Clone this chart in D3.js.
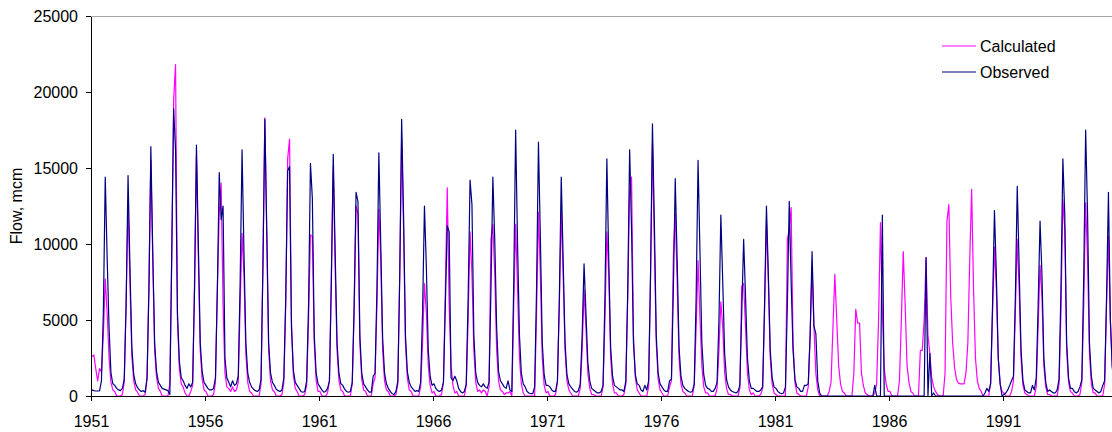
<!DOCTYPE html>
<html>
<head>
<meta charset="utf-8">
<script src="https://cdn.jsdelivr.net/npm/d3@7"></script>
<style>
  body { margin: 0; background: #fff; }
  svg { display: block; font-family: "Liberation Sans", Arial, sans-serif; }
  .axis path, .axis line { stroke: #000; shape-rendering: crispEdges; }
  .axis text { font-size: 16px; fill: #000; }
</style>
</head>
<body>
<div id="chart"></div>
<script>
// monthly flow, Jan..Dec per row, 1951 - 1995
var startYear = 1951;
var tickYears = ["1951", "1956", "1961", "1966", "1971", "1976", "1981", "1986", "1991"];
var yTicks = [0, 5000, 10000, 15000, 20000, 25000];
var seriesNames = ["Calculated", "Observed"];

var calculated = [
  2600, 2700, 1800, 1000, 1800, 1600, 4000, 7700, 5500, 2500, 900, 400,      // 1951
  300, 0, 0, 0, 100, 900, 6500, 12800, 7500, 2600, 1000, 400,                 // 1952
  250, 0, 0, 0, 100, 1100, 7500, 15500, 9000, 3000, 1200, 500,                // 1953
  300, 0, 0, 0, 0, 800, 9000, 19500, 21800, 5000, 1800, 800,                  // 1954
  600, 200, 0, 0, 300, 700, 7500, 15800, 9000, 3000, 1100, 400,               // 1955
  300, 0, 0, 0, 100, 900, 7000, 12000, 14000, 6000, 1500, 600,                // 1956
  500, 300, 600, 300, 400, 900, 6000, 10700, 8000, 2800, 900, 300,            // 1957
  200, 0, 0, 0, 0, 800, 9000, 18300, 10500, 3000, 1000, 400,                  // 1958
  300, 0, 0, 0, 100, 900, 6000, 15600, 16900, 5000, 1400, 500,                // 1959
  300, 0, 0, 0, 100, 700, 5000, 10600, 10500, 3500, 1000, 300,                // 1960
  300, 0, 0, 0, 200, 1000, 8000, 15100, 8500, 3000, 1000, 400,                // 1961
  300, 0, 0, 0, 0, 800, 5500, 12500, 12000, 3500, 1100, 400,                  // 1962
  300, 0, 0, 0, 800, 1200, 6000, 12300, 9000, 3000, 1000, 400,                // 1963
  300, 0, 0, 0, 100, 800, 8000, 17000, 11000, 3500, 1200, 400,                // 1964
  300, 0, 0, 0, 0, 600, 3500, 7400, 5500, 2000, 700, 200,                     // 1965
  300, 0, 0, 0, 100, 900, 7000, 13700, 6000, 2000, 700, 200,                  // 1966
  300, 0, 0, 0, 0, 700, 5000, 10800, 8000, 3000, 900, 300,                    // 1967
  400, 200, 400, 300, 0, 600, 10300, 11300, 8000, 3000, 1000, 400,            // 1968
  300, 100, 200, 200, 300, 0, 6000, 11300, 7000, 2500, 800, 200,              // 1969
  0, 0, 0, 0, 0, 0, 5500, 12100, 8000, 2500, 700, 200,                        // 1970
  300, 0, 0, 0, 100, 900, 6000, 12200, 8000, 3000, 1000, 400,                 // 1971
  200, 0, 0, 0, 0, 500, 3000, 7000, 4500, 1500, 500, 100,                     // 1972
  100, 0, 0, 0, 0, 600, 5000, 10800, 8000, 2500, 800, 200,                    // 1973
  200, 0, 0, 0, 100, 800, 6500, 13500, 14400, 4000, 1200, 400,                // 1974
  200, 0, 0, 0, 0, 600, 8000, 16600, 10000, 3500, 1100, 400,                  // 1975
  200, 0, 0, 0, 600, 1000, 9200, 12000, 7500, 2500, 800, 300,                 // 1976
  200, 0, 0, 0, 0, 700, 4500, 8900, 5200, 2000, 600, 200,                     // 1977
  200, 0, 0, 0, 0, 500, 3000, 6200, 4500, 1500, 500, 100,                     // 1978
  100, 0, 0, 0, 0, 500, 7200, 7400, 4500, 1500, 400, 100,                     // 1979
  200, 0, 0, 0, 100, 500, 5500, 11500, 7500, 2500, 800, 200,                  // 1980
  100, 0, 0, 0, 0, 0, 10300, 11000, 12400, 3500, 900, 200,                    // 1981
  100, 0, 0, 0, 0, 600, 4000, 8500, 4500, 1500, 400, 0,                       // 1982
  0, 0, 0, 0, 300, 900, 4500, 8000, 5000, 2000, 800, 300,                     // 1983
  200, 0, 0, 0, 0, 1500, 5700, 4800, 4800, 1500, 700, 200,                    // 1984
  100, 0, 0, 0, 200, 800, 5000, 11400, 5500, 1800, 800, 300,                  // 1985
  300, 0, 0, 0, 0, 1000, 5000, 9500, 6000, 2000, 900, 300,                    // 1986
  200, 0, 0, 0, 3000, 3000, 5000, 9100, 4000, 2800, 1200, 600,                // 1987
  300, 100, 0, 0, 0, 1500, 11500, 12600, 6500, 3500, 1900, 1100,              // 1988
  850, 800, 800, 800, 1500, 3500, 9000, 13600, 7000, 2500, 1000, 500,         // 1989
  300, 0, 0, 0, 0, 900, 5500, 9800, 7000, 2500, 800, 300,                     // 1990
  200, 0, 0, 0, 300, 1000, 5500, 10300, 7000, 2500, 700, 200,                 // 1991
  100, 0, 0, 0, 0, 600, 4500, 8600, 6500, 2000, 600, 100,                     // 1992
  100, 0, 0, 0, 0, 800, 5500, 12900, 11000, 3000, 900, 300,                   // 1993
  200, 0, 0, 0, 100, 900, 6000, 12700, 9000, 2800, 800, 200,                  // 1994
  200, 0, 0, 0, 0, 800, 6000, 10500, 5000, 2000, 700, 200                     // 1995
];

var observed = [
  400, 350, 330, 330, 330, 1000, 5500, 14400, 9100, 4500, 1500, 800,          // 1951
  700, 500, 400, 350, 500, 1100, 6000, 14500, 8500, 3200, 1400, 800,          // 1952
  550, 400, 300, 350, 250, 1200, 7000, 16400, 9500, 3500, 1600, 900,          // 1953
  700, 500, 450, 400, 350, 100, 9500, 18900, 16200, 5500, 2300, 1200,         // 1954
  1000, 700, 500, 800, 600, 900, 7000, 16500, 10000, 3500, 1600, 900,         // 1955
  700, 500, 400, 400, 500, 1200, 7000, 14700, 11600, 12500, 2500, 1200,       // 1956
  900, 600, 1000, 700, 800, 1300, 7500, 16200, 9500, 3500, 1500, 900,         // 1957
  600, 450, 350, 300, 400, 1100, 8500, 18200, 11000, 3500, 1500, 900,         // 1958
  700, 450, 350, 300, 400, 1200, 6500, 14800, 15100, 4500, 1700, 900,         // 1959
  700, 500, 300, 250, 300, 1000, 6000, 15300, 13000, 4000, 1500, 800,         // 1960
  600, 400, 250, 300, 500, 1000, 7500, 15900, 9500, 3500, 1500, 800,          // 1961
  700, 450, 300, 250, 300, 900, 6000, 13400, 12800, 4000, 1500, 800,          // 1962
  600, 400, 250, 250, 1300, 1500, 7000, 16000, 10000, 3800, 1500, 800,        // 1963
  500, 300, 150, 100, 300, 1000, 8000, 18200, 12000, 4000, 1600, 900,         // 1964
  600, 450, 300, 350, 300, 900, 5500, 12500, 8500, 3000, 1300, 700,           // 1965
  800, 500, 350, 300, 400, 900, 6000, 11200, 10800, 1200, 1000, 1300,         // 1966
  1000, 500, 300, 200, 300, 800, 6500, 14200, 12600, 4000, 1500, 900,         // 1967
  700, 600, 800, 600, 500, 900, 7000, 14400, 10300, 4500, 1600, 1000,         // 1968
  800, 600, 500, 1000, 400, 300, 7500, 17500, 10000, 4000, 1500, 800,         // 1969
  600, 300, 200, 150, 150, 600, 7000, 16700, 10500, 3500, 1400, 700,          // 1970
  700, 600, 400, 300, 300, 1000, 6500, 14400, 9000, 3500, 1400, 800,          // 1971
  600, 450, 300, 250, 350, 800, 4000, 8700, 5500, 2200, 1000, 500,            // 1972
  400, 300, 200, 200, 300, 700, 6500, 15600, 9000, 3200, 1300, 700,           // 1973
  600, 500, 400, 400, 300, 1000, 7000, 16200, 11000, 3500, 1400, 800,         // 1974
  700, 400, 300, 700, 400, 1000, 8000, 17900, 11500, 4000, 1500, 800,         // 1975
  600, 400, 300, 300, 1000, 1100, 7000, 14300, 9000, 3200, 1300, 700,         // 1976
  500, 400, 300, 250, 300, 800, 6500, 15500, 9500, 3500, 1400, 700,           // 1977
  500, 450, 300, 300, 500, 900, 5000, 11900, 7500, 2800, 1100, 600,           // 1978
  400, 300, 250, 200, 300, 700, 5500, 10300, 6500, 2500, 1000, 500,           // 1979
  500, 400, 300, 300, 400, 600, 6000, 12500, 8000, 3000, 1200, 600,           // 1980
  500, 300, 200, 150, 200, 600, 6000, 12800, 7500, 3000, 1100, 600,           // 1981
  500, 300, 300, 700, 700, 800, 4000, 9500, 4600, 4100, 1000, 200,            // 1982
  0, 0, 0, 0, 0, 0, 0, 0, 0, 0, 0, 0,                                         // 1983
  0, 0, 0, 0, 0, 0, 0, 0, 0, 0, 0, 0,                                         // 1984
  0, 0, 0, 0, 700, 0, 0, 0, 11900, 0, 0, 0,                                   // 1985
  0, 0, 0, 0, 0, 0, 0, 0, 0, 0, 0, 0,                                         // 1986
  0, 0, 0, 0, 0, 0, 0, 9100, 0, 2800, 0, 200,                                 // 1987
  0, 0, 0, 0, 0, 0, 0, 0, 0, 0, 0, 0,                                         // 1988
  0, 0, 0, 0, 0, 0, 0, 0, 0, 0, 0, 0,                                         // 1989
  0, 0, 200, 500, 300, 800, 6000, 12200, 8000, 2500, 800, 0,                  // 1990
  100, 200, 400, 700, 1000, 1300, 6500, 13800, 8500, 3000, 1000, 400,         // 1991
  300, 200, 200, 700, 400, 1200, 6000, 11500, 8000, 2500, 900, 300,           // 1992
  400, 300, 200, 200, 400, 1100, 7000, 15600, 12000, 3500, 1200, 500,         // 1993
  500, 300, 200, 300, 600, 1100, 8000, 17500, 12000, 3500, 1300, 500,         // 1994
  400, 300, 200, 300, 700, 1000, 6500, 13400, 5000, 1900, 900, 400            // 1995
];

var colors = { Calculated: "#ff00ff", Observed: "#000080" };

var W = 1112, H = 432;
var margin = { top: 16, left: 91, bottom: 36 };
var monthPx = 1.9;   // width of one month on the category axis

var svg = d3.select("#chart").append("svg")
  .attr("width", W)
  .attr("height", H);

var x = d3.scaleLinear()
  .domain([0, 480])
  .range([margin.left, margin.left + 480 * monthPx]);

var y = d3.scaleLinear()
  .domain([0, 25000])
  .range([H - margin.bottom, margin.top]);

// top gridline
svg.append("line")
  .attr("x1", margin.left).attr("x2", W)
  .attr("y1", y(25000)).attr("y2", y(25000))
  .attr("stroke", "#a6a6a6")
  .attr("stroke-width", 1)
  .attr("shape-rendering", "crispEdges");

var line = d3.line()
  .x(function(d, i) { return x(i + 0.5); })
  .y(function(d) { return y(d); });

var series = { Calculated: calculated, Observed: observed };

seriesNames.forEach(function(name) {
  svg.append("path")
    .datum(series[name])
    .attr("fill", "none")
    .attr("stroke", colors[name])
    .attr("stroke-width", 1.2)
    .attr("stroke-linejoin", "round")
    .attr("d", line);
});

// x axis
var xTickVals = tickYears.map(function(t) { return (+t - startYear) * 12; });
var xAxis = svg.append("g")
  .attr("class", "axis")
  .attr("transform", "translate(0," + y(0) + ")")
  .call(d3.axisBottom(x).tickValues(xTickVals)
    .tickFormat(function(d, i) { return tickYears[i]; })
    .tickSize(5).tickSizeOuter(0).tickPadding(15));
xAxis.select(".domain").attr("d", "M" + margin.left + ",0.5H" + W);

// y axis
svg.append("g")
  .attr("class", "axis")
  .attr("transform", "translate(" + margin.left + ",0)")
  .call(d3.axisLeft(y).tickValues(yTicks).tickFormat(d3.format("d"))
    .tickSize(5).tickSizeOuter(0).tickPadding(8));

svg.append("text")
  .attr("transform", "translate(22," + ((y(0) + y(25000)) / 2) + ") rotate(-90)")
  .attr("text-anchor", "middle")
  .attr("font-size", 16)
  .text("Flow, mcm");

// legend
var legend = svg.append("g")
  .selectAll("g")
  .data(seriesNames)
  .enter().append("g")
  .attr("transform", function(d, i) { return "translate(942," + (46 + i * 26) + ")"; });

legend.append("line")
  .attr("x1", 0).attr("x2", 34)
  .attr("stroke", function(d) { return colors[d]; })
  .attr("stroke-width", 1.2);

legend.append("text")
  .attr("x", 38)
  .attr("dy", "0.35em")
  .attr("font-size", 16)
  .text(function(d) { return d; });
</script>
</body>
</html>
